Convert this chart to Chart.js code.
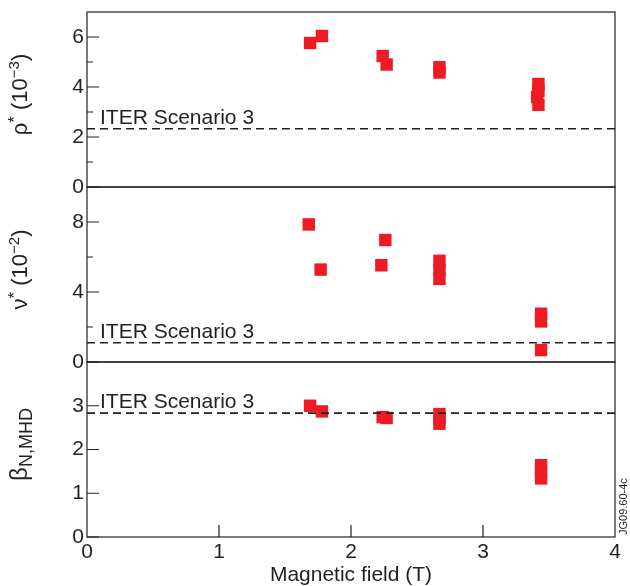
<!DOCTYPE html>
<html>
<head>
<meta charset="utf-8">
<script src="https://cdn.jsdelivr.net/npm/chart.js"></script>
<style>
  html, body { margin: 0; padding: 0; background: #fff; }
  #wrap { position: relative; width: 630px; height: 586px; }
</style>
</head>
<body>
<div id="wrap"><canvas id="fieldChart"></canvas></div>
<script>
// magnetic field axis
var fieldTicks = [0, 1, 2, 3, 4];

// rho* panel (10^-3)
var rhoField  = [1.69, 1.78, 2.24, 2.27, 2.67, 2.67, 3.42, 3.42, 3.41, 3.42];
var rhoValues = [5.76, 6.04, 5.24, 4.90, 4.79, 4.58, 4.12, 3.85, 3.60, 3.29];
var rhoTicks  = [0, 2, 4, 6];
var rhoMinor  = [1, 3, 5];
var rhoIter   = 2.33;

// nu* panel (10^-2)
var nuField  = [1.68, 1.77, 2.26, 2.23, 2.67, 2.67, 2.67, 3.44, 3.44, 3.44];
var nuValues = [7.86, 5.28, 6.97, 5.53, 5.78, 5.25, 4.75, 2.76, 2.32, 0.68];
var nuTicks  = [0, 4, 8];
var nuMinor  = [2, 6];
var nuIter   = 1.1;

// beta_N,MHD panel
var betaField  = [1.69, 1.78, 2.24, 2.27, 2.67, 2.67, 2.67, 3.44, 3.44, 3.44];
var betaValues = [3.00, 2.87, 2.74, 2.72, 2.81, 2.70, 2.59, 1.64, 1.49, 1.34];
var betaTicks  = [0, 1, 2, 3];
var betaMinor  = [];
var betaIter   = 2.83;

var iterLabel = 'ITER Scenario 3';
var ink = '#231f20';
var red = '#ed1c24';
var fontFamily = '"Liberation Sans", Arial, Helvetica, sans-serif';

function pts(xs, ys) {
  return xs.map(function (x, i) { return {x: x, y: ys[i]}; });
}
function iterLine(v) {
  return [{x: fieldTicks[0], y: v}, {x: fieldTicks[fieldTicks.length - 1], y: v}];
}
function tickSetter(list) {
  return function (scale) { scale.ticks = list.map(function (v) { return {value: v}; }); };
}

// top to bottom; title segments are [text, baseline shift, size]
var panels = [
  {id: 'yRho', max: 7, ticks: rhoTicks, minor: rhoMinor, iter: rhoIter,
   title: [['ρ', 0, 22], ['*', -7, 17], [' (10', 0, 22], ['−3', -8, 15], [')', 0, 22]]},
  {id: 'yNu', max: 10, ticks: nuTicks, minor: nuMinor, iter: nuIter,
   title: [['ν', 0, 22], ['*', -7, 17], [' (10', 0, 22], ['−2', -8, 15], [')', 0, 22]]},
  {id: 'yBeta', max: 4, ticks: betaTicks, minor: betaMinor, iter: betaIter,
   title: [['β', 0, 24], ['N,MHD', 5, 18]]}
];

// draws frames, inward ticks, titles and notes
var panelDecor = {
  id: 'panelDecor',
  afterDraw: function (chart) {
    var ctx = chart.ctx;
    var area = chart.chartArea;
    var xs = chart.scales.x;
    ctx.save();
    ctx.strokeStyle = ink;
    ctx.lineWidth = 1.2;
    panels.forEach(function (p) {
      var s = chart.scales[p.id];
      ctx.strokeRect(area.left, s.top, area.right - area.left, s.bottom - s.top);
      ctx.beginPath();
      p.ticks.forEach(function (v) {
        var y = s.getPixelForValue(v);
        ctx.moveTo(area.left, y); ctx.lineTo(area.left + 12, y);
      });
      p.minor.forEach(function (v) {
        var y = s.getPixelForValue(v);
        ctx.moveTo(area.left, y); ctx.lineTo(area.left + 6, y);
      });
      ctx.stroke();

      // ITER note
      ctx.fillStyle = ink;
      ctx.font = '21px ' + fontFamily;
      ctx.textAlign = 'left';
      ctx.textBaseline = 'alphabetic';
      ctx.fillText(iterLabel, area.left + 13, s.getPixelForValue(p.iter) - 5);

      // rotated title, sits a little above the panel middle
      var cy = (s.top + s.bottom) / 2 - 5;
      var total = 0;
      p.title.forEach(function (seg) {
        ctx.font = seg[2] + 'px ' + fontFamily;
        total += ctx.measureText(seg[0]).width;
      });
      ctx.save();
      ctx.translate(27, cy);
      ctx.rotate(-Math.PI / 2);
      var x = -total / 2;
      p.title.forEach(function (seg) {
        ctx.font = seg[2] + 'px ' + fontFamily;
        ctx.fillText(seg[0], x, seg[1]);
        x += ctx.measureText(seg[0]).width;
      });
      ctx.restore();
    });

    // field ticks pointing up from the bottom
    ctx.beginPath();
    fieldTicks.slice(1, -1).forEach(function (v) {
      var x = xs.getPixelForValue(v);
      ctx.moveTo(x, area.bottom); ctx.lineTo(x, area.bottom - 12);
    });
    ctx.stroke();

    // figure id
    ctx.save();
    ctx.translate(area.right + 12, area.bottom - 2);
    ctx.rotate(-Math.PI / 2);
    ctx.font = '11px ' + fontFamily;
    ctx.fillStyle = ink;
    ctx.textAlign = 'left';
    ctx.fillText('JG09.60-4c', 0, 0);
    ctx.restore();
    ctx.restore();
  }
};

var datasets = [];
[[rhoIter, 'yRho'], [nuIter, 'yNu'], [betaIter, 'yBeta']].forEach(function (d) {
  datasets.push({
    type: 'line', data: iterLine(d[0]), yAxisID: d[1],
    borderColor: ink, borderWidth: 1.7, borderDash: [8, 5],
    pointRadius: 0, fill: false
  });
});
[[rhoField, rhoValues, 'yRho'], [nuField, nuValues, 'yNu'], [betaField, betaValues, 'yBeta']].forEach(function (d) {
  datasets.push({
    type: 'scatter', data: pts(d[0], d[1]), yAxisID: d[2],
    pointStyle: 'rect', pointRadius: 8.8, pointHoverRadius: 8.8,
    backgroundColor: red, borderWidth: 0
  });
});

var tickFont = {family: fontFamily, size: 21};
var scales = {
  x: {
    type: 'linear', min: 0, max: 4,
    afterBuildTicks: tickSetter(fieldTicks),
    afterFit: function (s) { s.height = 49; s.paddingLeft = 0; s.paddingRight = 0; },
    grid: {display: false, drawTicks: false},
    border: {display: false},
    ticks: {font: tickFont, color: ink, padding: 3, maxRotation: 0},
    title: {display: true, text: 'Magnetic field (T)', color: ink,
            font: {family: fontFamily, size: 21, lineHeight: 1}, padding: {top: 0, bottom: 0}}
  }
};
// stacked axes are laid out bottom-up, so add them in reverse
panels.slice().reverse().forEach(function (p) {
  scales[p.id] = {
    type: 'linear', position: 'left', stack: 'panels', stackWeight: 1,
    min: 0, max: p.max,
    afterBuildTicks: tickSetter(p.ticks),
    afterFit: function (s) { s.width = 87; s.paddingTop = 0; s.paddingBottom = 0; },
    grid: {display: false, drawTicks: false},
    border: {display: false},
    ticks: {font: tickFont, color: ink, padding: 3}
  };
});

new Chart(document.getElementById('fieldChart'), {
  data: {datasets: datasets},
  options: {
    responsive: true,
    maintainAspectRatio: false,
    animation: false,
    layout: {padding: {top: 12, right: 15, bottom: 0, left: 0}},
    plugins: {legend: {display: false}, tooltip: {enabled: false}},
    scales: scales
  },
  plugins: [panelDecor]
});
</script>
</body>
</html>
